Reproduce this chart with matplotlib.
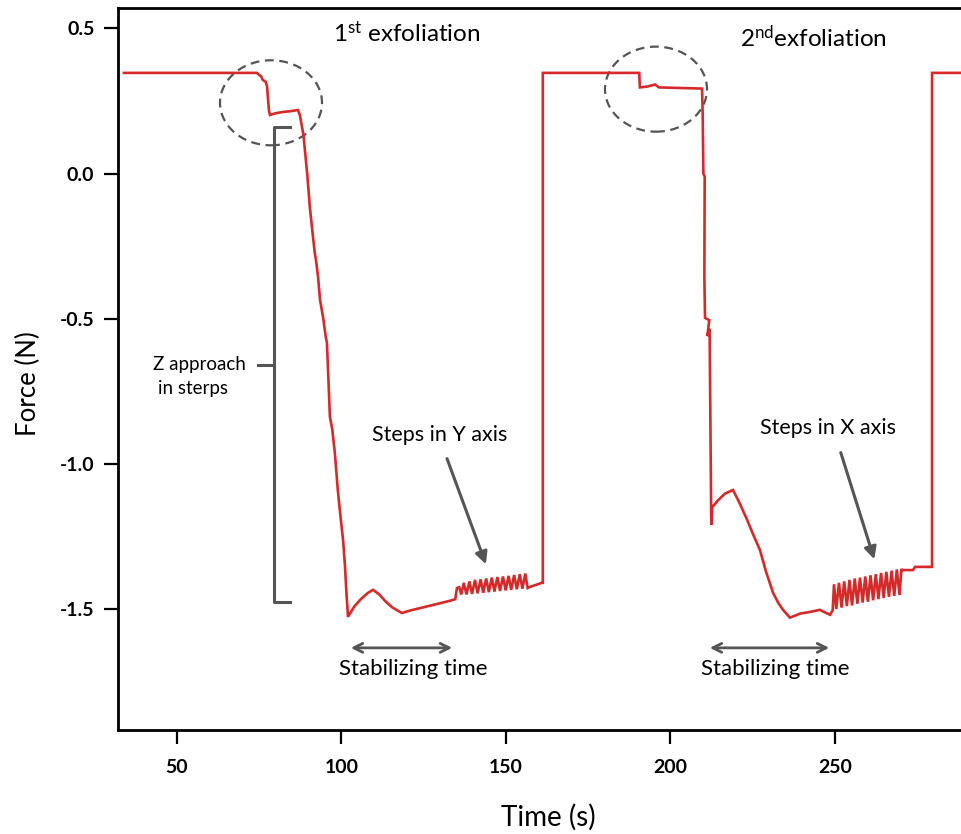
import matplotlib
matplotlib.use("Agg")
import matplotlib.pyplot as plt
from matplotlib.patches import Ellipse

# force trace (time in s, force in N)
time_s = [
    33.9, 74.3, 75.0, 75.6, 76.1, 77.0, 77.4, 78.0, 78.3, 80.0, 82.0, 84.5, 86.8,
    87.4, 88.0, 88.5, 88.9, 89.6, 90.4, 91.0, 91.9, 92.3, 92.9, 93.5, 94.5, 95.2,
    95.6, 96.0, 96.5, 97.2, 98.0, 98.9, 99.8, 100.5, 101.1, 101.5, 102.0,
    104.0, 106.0, 108.0, 109.6, 111.5, 113.5, 115.5, 117.0, 118.4, 121.0, 123.9,
    127.5, 131.5, 133.9, 134.6, 135.1, 135.8, 136.4,
    137.2, 138.0, 138.9, 139.7, 140.6, 141.4, 142.3, 143.1, 144.0, 144.8, 145.7,
    146.5, 147.4, 148.2, 149.1, 149.9, 150.8, 151.6, 152.5, 153.3, 154.2, 155.0,
    155.9, 156.6, 157.3, 160.9, 161.2,
    161.2, 190.5, 190.7, 193.0, 195.3, 196.5, 209.6, 209.8, 209.9, 210.0, 210.4,
    210.3, 210.5, 211.8, 211.2, 211.9, 212.4, 212.7, 214.5, 216.5, 219.0, 221.0,
    223.3, 225.0, 227.2, 229.0, 231.2, 232.8, 234.2, 236.3, 239.4, 242.5, 245.4,
    247.0, 248.5,
    249.3, 249.7, 250.4, 251.2, 252.0, 252.8, 253.6, 254.4, 255.2, 256.0, 256.8,
    257.6, 258.4, 259.2, 260.0, 260.8, 261.6, 262.4, 263.2, 264.0, 264.8, 265.6,
    266.4, 267.2, 268.0, 268.8, 269.6, 270.2, 270.4, 273.7, 274.3, 279.5,
    279.5, 292.0,
]
force_n = [
    0.347, 0.347, 0.340, 0.335, 0.323, 0.316, 0.300, 0.215, 0.202, 0.208, 0.212, 0.215, 0.219,
    0.200, 0.161, 0.130, 0.081, 0.000, -0.115, -0.180, -0.273, -0.300, -0.356, -0.435, -0.500, -0.560,
    -0.583, -0.700, -0.838, -0.880, -0.962, -1.090, -1.190, -1.262, -1.355, -1.440, -1.527,
    -1.490, -1.465, -1.445, -1.434, -1.450, -1.475, -1.495, -1.505, -1.514, -1.505, -1.497,
    -1.487, -1.476, -1.469, -1.466, -1.428, -1.425, -1.450,
    -1.410, -1.450, -1.405, -1.448, -1.400, -1.446, -1.398, -1.444, -1.395, -1.442, -1.392,
    -1.440, -1.390, -1.438, -1.388, -1.436, -1.386, -1.434, -1.383, -1.432, -1.380, -1.430,
    -1.378, -1.428, -1.424, -1.410, -1.410,
    0.347, 0.347, 0.297, 0.300, 0.307, 0.297, 0.293, 0.200, 0.105, 0.000, -0.010,
    -0.356, -0.497, -0.505, -0.560, -0.535, -1.210, -1.149, -1.125, -1.103, -1.090, -1.135,
    -1.193, -1.240, -1.297, -1.370, -1.445, -1.480, -1.503, -1.530, -1.516, -1.510, -1.503,
    -1.512, -1.520,
    -1.505, -1.415, -1.500, -1.410, -1.495, -1.405, -1.490, -1.400, -1.488, -1.395, -1.482,
    -1.392, -1.478, -1.388, -1.475, -1.384, -1.470, -1.380, -1.466, -1.376, -1.462, -1.372,
    -1.458, -1.368, -1.455, -1.364, -1.452, -1.362, -1.366, -1.366, -1.355, -1.355,
    0.347, 0.347,
]

x_ticks = [50, 100, 150, 200, 250]
y_ticks = [0.5, 0.0, -0.5, -1.0, -1.5]
y_ticklabels = ["0.5", "0.0", "-0.5", "-1.0", "-1.5"]

font = "Lato"
plt.rcParams["font.family"] = [font, "DejaVu Sans"]
plt.rcParams["mathtext.fontset"] = "custom"
plt.rcParams["mathtext.rm"] = font
plt.rcParams["mathtext.it"] = font + ":italic"
plt.rcParams["mathtext.bf"] = font + ":bold"

gray = "#555555"
red = "#d42a2a"

fig = plt.figure(figsize=(9.62, 8.34), dpi=100)
ax = fig.add_axes([118 / 962, 104 / 834, 844 / 962, 722 / 834])

ax.plot(time_s, force_n, color=red, lw=1.9, solid_joinstyle="miter")

ax.set_xlim(32.1, 288.6)
ax.set_ylim(-1.917, 0.5706)
ax.set_xticks(x_ticks)
ax.set_xticklabels([str(x) for x in x_ticks], fontweight="bold", fontsize=14)
ax.set_yticks(y_ticks)
ax.set_yticklabels(y_ticklabels, fontweight="bold", fontsize=14)
ax.tick_params(direction="out", length=10, width=1.6, pad=7, colors="black")
ax.tick_params(axis="x", pad=11)
ax.spines["right"].set_visible(False)
for s in ["left", "top", "bottom"]:
    ax.spines[s].set_linewidth(2.0)

fig.text(548 / 962, 1 - 817 / 834, "Time (s)", ha="center", va="center", fontsize=20)
fig.text(28 / 962, 1 - 384 / 834, "Force (N)", ha="center", va="center",
         rotation=90, fontsize=18.5)

# titles of the two cycles
ax.text(119.9, 0.484, r"1$^{\mathrm{st}}$ exfoliation", ha="center", va="center", fontsize=17.5)
ax.text(243.3, 0.470, r"2$^{\mathrm{nd}}$exfoliation", ha="center", va="center", fontsize=17.5)

# dashed circles
for cx, cy in [(78.6, 0.244), (195.6, 0.291)]:
    ax.add_patch(Ellipse((cx, cy), 31.0, 0.293, fill=False, ec=gray,
                         lw=1.6, ls=(0, (4, 2.5))))

# bracket for Z approach
ax.plot([84.3, 79.5, 79.5, 84.3], [0.160, 0.160, -1.476, -1.476], color=gray, lw=2.2)
ax.plot([74.6, 79.5], [-0.659, -0.659], color=gray, lw=2.2)
ax.text(42.7, -0.656, "Z approach", ha="left", va="center", fontsize=13.5)
ax.text(44.2, -0.739, "in sterps", ha="left", va="center", fontsize=13.5)

# steps arrows
ax.text(130.0, -0.900, "Steps in Y axis", ha="center", va="center", fontsize=15.5)
ax.annotate("", xy=(144.2, -1.355), xytext=(131.8, -0.973),
            arrowprops=dict(arrowstyle="-|>", color=gray, lw=2.2, mutation_scale=18))
ax.text(247.9, -0.878, "Steps in X axis", ha="center", va="center", fontsize=15.5)
ax.annotate("", xy=(262.2, -1.338), xytext=(251.5, -0.952),
            arrowprops=dict(arrowstyle="-|>", color=gray, lw=2.2, mutation_scale=18))

# stabilizing time
for x0, x1, xc in [(102.0, 134.5, 121.7), (211.1, 249.1, 231.8)]:
    ax.annotate("", xy=(x1, -1.634), xytext=(x0, -1.634),
                arrowprops=dict(arrowstyle="<->", color=gray, lw=2.0, mutation_scale=16))
    ax.text(xc, -1.707, "Stabilizing time", ha="center", va="center", fontsize=16)

fig.savefig("out.png", dpi=100)
